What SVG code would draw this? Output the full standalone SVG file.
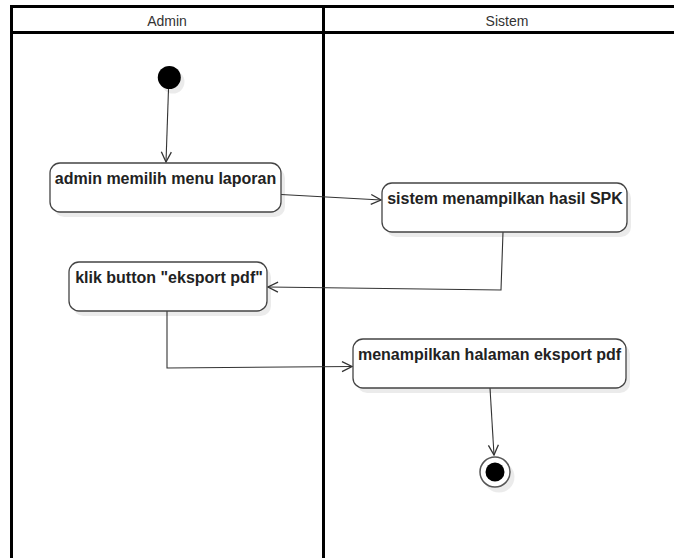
<svg xmlns="http://www.w3.org/2000/svg" width="674" height="558" viewBox="0 0 674 558">
  <style>
    .lane { fill: none; stroke: #000; stroke-width: 3; }
    .lane-title { font-family: "Liberation Sans", Arial, sans-serif; font-size: 14px; fill: #333; text-anchor: middle; }
    .shadow { fill: #000; opacity: 0.08; }
    .act { fill: #fff; stroke: #444; stroke-width: 1.3; }
    .act-label { font-family: "Liberation Sans", Arial, sans-serif; font-size: 16px; font-weight: bold; fill: #222; text-anchor: middle; }
    .flow { fill: none; stroke: #333; stroke-width: 1.1; }
  </style>
  <defs>
    <marker id="open-arrow" viewBox="0 0 12 12" refX="11" refY="6" markerWidth="12" markerHeight="12" markerUnits="userSpaceOnUse" orient="auto">
      <path d="M1,1 L11,6 L1,11" fill="none" stroke="#333" stroke-width="1.3"/>
    </marker>
  </defs>
  <rect width="674" height="558" fill="#fff"/>

  <!-- swimlane frame -->
  <g id="swimlanes">
    <path class="lane" d="M11.5,560 V6.5 H680"/>
    <path class="lane" d="M11.5,32.5 H680"/>
    <path class="lane" d="M323.5,6.5 V560"/>
    <text class="lane-title" x="167" y="26">Admin</text>
    <text class="lane-title" x="507" y="26">Sistem</text>
  </g>

  <!-- connectors -->
  <g id="connectors">
    <path class="flow" d="M168.5,89 L166,162" marker-end="url(#open-arrow)"/>
    <path class="flow" d="M281,194.5 L381,200" marker-end="url(#open-arrow)"/>
    <path class="flow" d="M503,232 L501,290 L268,287" marker-end="url(#open-arrow)"/>
    <path class="flow" d="M167,311 L167,368 L352,366.5" marker-end="url(#open-arrow)"/>
    <path class="flow" d="M490,388 L494,455" marker-end="url(#open-arrow)"/>
  </g>

  <!-- start -->
  <g id="start">
    <circle class="shadow" cx="173" cy="82" r="11.5"/>
    <circle cx="169.3" cy="77.5" r="11.5" fill="#000"/>
  </g>

  <g id="admin-pilih-menu">
    <rect class="shadow" x="54" y="168" width="231" height="49" rx="10"/>
    <rect class="act" x="50" y="163" width="231" height="49" rx="10"/>
    <text class="act-label" x="165.5" y="184">admin memilih menu laporan</text>
  </g>

  <g id="sistem-tampil-hasil">
    <rect class="shadow" x="386" y="188" width="245" height="49" rx="10"/>
    <rect class="act" x="382" y="183" width="245" height="49" rx="10"/>
    <text class="act-label" x="505" y="204">sistem menampilkan hasil SPK</text>
  </g>

  <g id="klik-eksport">
    <rect class="shadow" x="73" y="267" width="198" height="49" rx="10"/>
    <rect class="act" x="69" y="262" width="198" height="49" rx="10"/>
    <text class="act-label" x="169" y="283">klik button "eksport pdf"</text>
  </g>

  <g id="halaman-eksport">
    <rect class="shadow" x="357" y="344" width="273" height="49" rx="10"/>
    <rect class="act" x="353" y="339" width="273" height="49" rx="10"/>
    <text class="act-label" x="489.5" y="360">menampilkan halaman eksport pdf</text>
  </g>

  <!-- end -->
  <g id="end">
    <circle class="shadow" cx="499" cy="477" r="15.5"/>
    <circle cx="495" cy="472" r="15" fill="#fff" stroke="#555" stroke-width="1.5"/>
    <circle cx="495" cy="472" r="9.5" fill="#000"/>
  </g>
</svg>
